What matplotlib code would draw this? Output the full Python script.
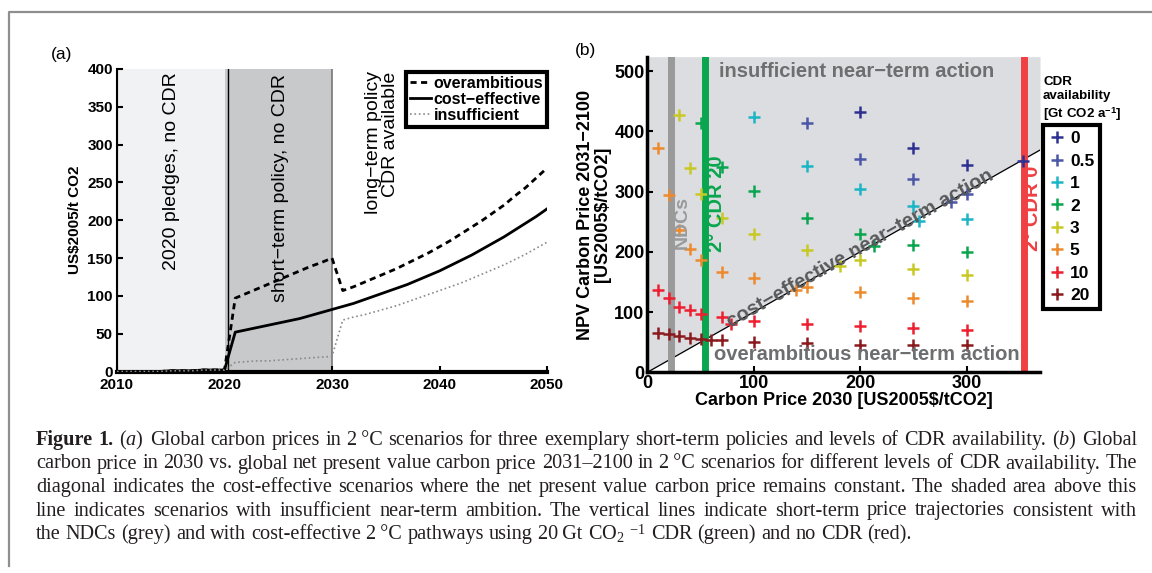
import matplotlib
matplotlib.use('Agg')
import matplotlib.pyplot as plt
from matplotlib.lines import Line2D

plt.rcParams['font.family'] = ['Liberation Sans', 'DejaVu Sans']
plt.rcParams['mathtext.fontset'] = 'custom'
plt.rcParams['mathtext.rm'] = 'Liberation Serif'
plt.rcParams['mathtext.it'] = 'Liberation Serif:italic'
plt.rcParams['mathtext.sf'] = 'Liberation Sans:bold'

W, H = 1152, 573

# ---- panel (a): carbon price paths ----
years = list(range(2010, 2051))
overambitious = [0, 0, 0, 0, 0, 1, 1, 1, 2, 2, 2,
                 97, 103, 109, 115, 121, 127, 133, 139, 144, 150,
                 107, 112, 118, 124, 130, 136, 143, 150, 157, 165,
                 173, 182, 191, 200, 210, 220, 232, 243, 256, 269]
cost_effective = [0, 0, 0, 0, 0, 1, 1, 1, 2, 2, 2,
                  52, 55, 58, 61, 64, 67, 70, 74, 78, 82,
                  86, 90, 95, 100, 105, 110, 115, 121, 127, 133,
                  140, 147, 154, 162, 170, 178, 187, 196, 205, 215]
insufficient = [0, 0, 0, 0, 0, 1, 1, 1, 2, 2, 2,
                12, 13, 14, 14, 15, 16, 17, 18, 19, 20,
                68, 72, 75, 79, 83, 87, 92, 97, 102, 107,
                112, 117, 123, 129, 135, 141, 148, 155, 163, 171]
phase_bounds = [2010, 2020, 2030]

# ---- panel (b): 2030 price vs NPV price 2031-2100 by CDR availability ----
cdr_levels = ['0', '0.5', '1', '2', '3', '5', '10', '20']
cdr_colors = ['#2e3192', '#4b57a8', '#1cb5c6', '#0aa64f',
              '#c9c925', '#ec8a2d', '#ee1f30', '#8b1a1f']
price2030 = [
    [200, 250, 300, 353],
    [150, 200, 250, 285, 300],
    [100, 150, 200, 250, 255, 300],
    [50, 70, 100, 150, 200, 213, 250, 300],
    [30, 40, 50, 70, 100, 150, 181, 200, 250, 300],
    [10, 20, 30, 40, 50, 70, 100, 140, 150, 200, 250, 300],
    [10, 20, 30, 40, 50, 70, 79, 100, 150, 200, 250, 300],
    [10, 20, 30, 40, 50, 60, 70, 100, 150, 200, 250, 300],
]
npv_price = [
    [432, 373, 345, 351],
    [414, 354, 321, 282, 296],
    [424, 342, 304, 276, 252, 254],
    [414, 341, 301, 256, 230, 210, 212, 199],
    [427, 339, 296, 256, 230, 203, 177, 186, 172, 161],
    [373, 295, 237, 205, 186, 167, 156, 137, 142, 133, 124, 119],
    [137, 124, 109, 103, 97, 91, 81, 85, 80, 77, 73, 70],
    [66, 63, 60, 57, 55, 53, 53, 51, 48, 46, 45, 45],
]
ndc_price = 22
cdr20_price = 54
cdr0_price = 354

caption_lines = [
    "Figure 1. ($a$) Global carbon prices in 2\u2009°C scenarios for three exemplary short-term policies and levels of CDR availability. ($b$) Global",
    "carbon price in 2030 vs. global net present value carbon price 2031\u20132100 in 2\u2009°C scenarios for different levels of CDR availability. The",
    "diagonal indicates the cost-effective scenarios where the net present value carbon price remains constant. The shaded area above this",
    "line indicates scenarios with insufficient near-term ambition. The vertical lines indicate short-term price trajectories consistent with",
    "the NDCs (grey) and with cost-effective 2\u2009°C pathways using 20\u2009Gt CO$_2$ $^{-1}$ CDR (green) and no CDR (red).",
]

fig = plt.figure(figsize=(W / 100, H / 100), dpi=100)

# frame around the figure
fig.add_artist(Line2D([9 / W, 9 / W, 1], [1 - 566 / H, 1 - 12 / H, 1 - 12 / H],
                      color='#8f8f8f', lw=1.6, transform=fig.transFigure))

# ===== (a) =====
ax1 = fig.add_axes([117 / W, 1 - 371.5 / H, 430 / W, 302.5 / H])
ax1.axvspan(phase_bounds[0], phase_bounds[1], color='#f1f2f4', lw=0, zorder=0)
ax1.axvspan(phase_bounds[1], phase_bounds[2], color='#c8c9cb', lw=0, zorder=0)
ax1.axvline(phase_bounds[0], color='black', lw=1.5, zorder=1)
ax1.axvline(phase_bounds[1] + 0.3, color='black', lw=1.0, zorder=1)
ax1.axvline(phase_bounds[2], color='#777777', lw=1.2, zorder=1)

ax1.plot(years, overambitious, color='black', ls=(0, (2.2, 1.6)), lw=2, label='overambitious', zorder=3)
ax1.plot(years, cost_effective, color='black', lw=2, label='cost\u2212effective', zorder=3)
ax1.plot(years, insufficient, color='#8a8a8a', ls=':', lw=1.2, label='insufficient', zorder=3)

ax1.set_xlim(2010, 2050)
ax1.set_ylim(0, 400)
ax1.set_xticks(range(2010, 2051, 10))
ax1.set_yticks(range(0, 401, 50))
for s in ['top', 'right']:
    ax1.spines[s].set_visible(False)
ax1.spines['left'].set_linewidth(1.5)
ax1.spines['bottom'].set_linewidth(3)
ax1.tick_params(direction='in', length=4, width=1.5, labelsize=11, pad=3)
ax1.tick_params(axis='x', pad=5)
for t in ax1.get_xticklabels() + ax1.get_yticklabels():
    t.set_fontweight('bold')
ax1.set_ylabel('US\\$2005/t CO2', fontsize=11, fontweight='bold', labelpad=4)

ax1.text(2015.1, 265, '2020 pledges, no CDR', rotation=90, ha='center', va='center', fontsize=14)
ax1.text(2025.2, 242, 'short\u2212term policy, no CDR', rotation=90, ha='center', va='center', fontsize=14)
ax1.text(2034.65, 397, 'long\u2212term policy\nCDR available', rotation=90, ha='center', va='top',
         multialignment='right', fontsize=14, linespacing=0.95)

leg1 = ax1.legend(loc='upper right', bbox_to_anchor=(547 / W, 1 - 72 / H),
                  bbox_transform=fig.transFigure, frameon=True, fancybox=False,
                  prop={'weight': 'bold', 'size': 11.5}, handlelength=1.3,
                  handletextpad=0.15, labelspacing=0.05, borderpad=0.25, borderaxespad=0)
leg1.get_frame().set_edgecolor('black')
leg1.get_frame().set_linewidth(3)
leg1.get_frame().set_alpha(1)

fig.text(62 / W, 1 - 55 / H, '(a)', fontsize=12.5, ha='center', va='center')

# ===== (b) =====
ax2 = fig.add_axes([647.3 / W, 1 - 372.3 / H, 392.7 / W, 315.6 / H])
xmax, ymax = 369, 524
ax2.set_xlim(0, xmax)
ax2.set_ylim(0, ymax)
ax2.fill_between([0, xmax], [0, xmax], ymax, color='#dcdde0', lw=0, zorder=0)
ax2.plot([0, xmax], [0, xmax], color='black', lw=0.9, zorder=1)
ax2.axvline(ndc_price, color='#9a9a9a', lw=5, zorder=1)
ax2.axvline(cdr20_price, color='#0aa64f', lw=5, zorder=1)
ax2.axvline(cdr0_price, color='#ef4043', lw=5, zorder=1)

for lev, col, xs, ys in zip(cdr_levels, cdr_colors, price2030, npv_price):
    ax2.plot(xs, ys, ls='none', marker='+', ms=8, mew=1.8, color=col, label=lev, zorder=3)

ax2.text(33, 248, 'NDCs', rotation=90, ha='center', va='center', fontsize=14,
         fontweight='bold', color='#9a9a9a', zorder=4)
ax2.text(65, 280, '2° CDR 20', rotation=90, ha='center', va='center', fontsize=14.5,
         fontweight='bold', color='#0aa64f', zorder=4)
ax2.text(362, 272, '2° CDR 0', rotation=90, ha='center', va='center', fontsize=14.5,
         fontweight='bold', color='#ef4043', zorder=4, clip_on=False)
ax2.text(197, 500, 'insufficient near\u2212term action', ha='center', va='center',
         fontsize=14.5, fontweight='bold', color='#6d6e70', zorder=4)
ax2.text(206, 29, 'overambitious near\u2212term action', ha='center', va='center',
         fontsize=14.5, fontweight='bold', color='#6d6e70', zorder=4)
ax2.text(200, 206, 'cost\u2212effective near\u2212term action', rotation=29.5,
         rotation_mode='anchor', ha='center', va='center',
         fontsize=14.5, fontweight='bold', color='#58595b', zorder=4)

ax2.set_xticks([0, 100, 200, 300])
ax2.set_yticks(range(0, 501, 100))
for s in ['top', 'right']:
    ax2.spines[s].set_visible(False)
ax2.spines['left'].set_linewidth(2.5)
ax2.spines['bottom'].set_linewidth(2.5)
ax2.tick_params(direction='in', length=4, width=1.5, labelsize=13, pad=2)
for t in ax2.get_xticklabels() + ax2.get_yticklabels():
    t.set_fontweight('bold')
ax2.set_xlabel('Carbon Price 2030 [US2005\\$/tCO2]', fontsize=13, fontweight='bold', labelpad=0)
ax2.set_ylabel('NPV Carbon Price 2031\u22122100\n[US2005\\$/tCO2]', fontsize=13,
               fontweight='bold', linespacing=1.05, labelpad=2)

leg2 = ax2.legend(loc='upper left', bbox_to_anchor=(1043 / W, 1 - 125 / H),
                  bbox_transform=fig.transFigure, frameon=True, fancybox=False,
                  prop={'weight': 'bold', 'size': 12.5}, handlelength=0.9,
                  handletextpad=0.3, labelspacing=0.42, borderpad=0.35, borderaxespad=0)
leg2.get_frame().set_edgecolor('black')
leg2.get_frame().set_linewidth(3)
leg2.get_frame().set_alpha(1)
fig.text(1043 / W, 1 - 76 / H, 'CDR\navailability\n[Gt CO2 a$^{\\mathsf{-1}}$]', ha='left', va='top',
         fontsize=9.6, fontweight='bold', linespacing=1.25)

fig.text(585 / W, 1 - 50 / H, '(b)', fontsize=12.5, ha='center', va='center')

# ===== caption, justified by hand =====
serif = ['Liberation Serif', 'DejaVu Serif']
cap_fs = 14.6
cap_left, cap_right = 36, 1137
cap_base = [445, 468.5, 492, 515.5, 539]
renderer = fig.canvas.get_renderer()
probe_a = fig.text(0, 0, 'x x', fontsize=cap_fs, family=serif)
probe_b = fig.text(0, 0, 'xx', fontsize=cap_fs, family=serif)
space_px = probe_a.get_window_extent(renderer).width - probe_b.get_window_extent(renderer).width
probe_a.remove()
probe_b.remove()

for li, line in enumerate(caption_lines):
    words = line.split(' ')
    arts = []
    for wi, w in enumerate(words):
        bold = li == 0 and wi < 2
        arts.append(fig.text(0, 1 - cap_base[li] / H, w, fontsize=cap_fs, family=serif,
                             fontweight='bold' if bold else 'normal', va='baseline',
                             color='#231f20'))
    widths = [a.get_window_extent(renderer).width for a in arts]
    if li < len(caption_lines) - 1:
        gap = (cap_right - cap_left - sum(widths)) / (len(words) - 1)
    else:
        gap = space_px
    x = cap_left
    for a, w in zip(arts, widths):
        a.set_x(x / W)
        x += w + gap

fig.savefig('out.png', dpi=100)
